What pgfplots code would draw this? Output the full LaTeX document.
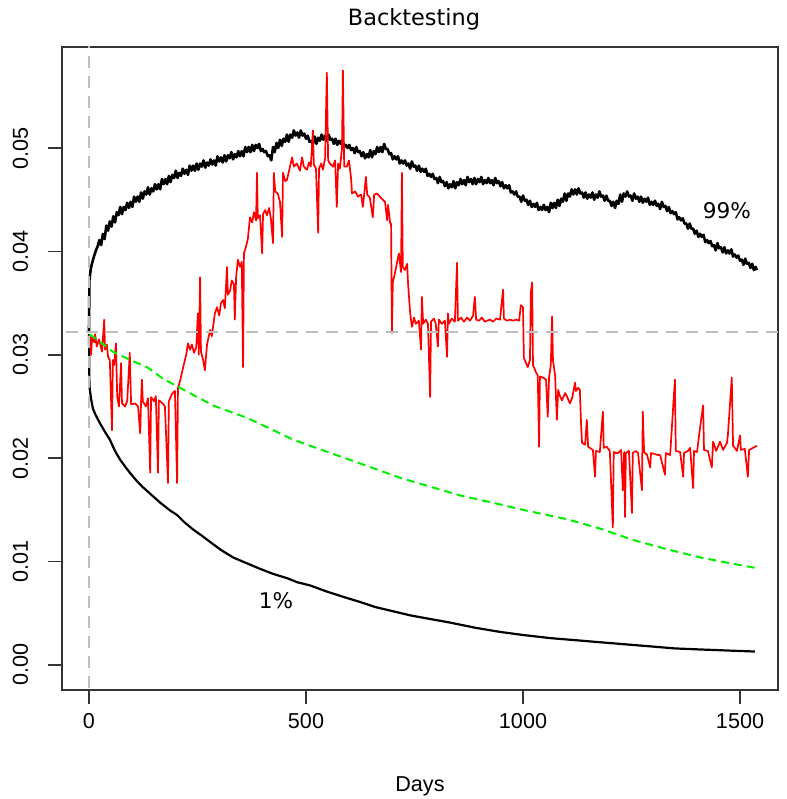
\documentclass[border=0pt]{standalone}
\usepackage{pgfplots}
\pgfplotsset{compat=1.18}
\usepackage{fontspec}
\setmainfont{Liberation Sans}
\newfontfamily\dejavu{DejaVu Sans}
\definecolor{rgray}{HTML}{BEBEBE}
\definecolor{rgreen}{HTML}{00F000}
\definecolor{rred}{HTML}{FF0000}
\begin{document}
\begin{tikzpicture}
\begin{axis}[
  scale only axis, width=358pt, height=321.5pt,
  xmin=-62.2, xmax=1587.5, ymin=-0.00242, ymax=0.05977,
  axis line style={black!80, line width=0.75pt},
  xtick={0,500,1000,1500},
  ytick={0,0.01,0.02,0.03,0.04,0.05},
  tick align=outside, major tick length=7pt,
  tick style={black!80, line width=0.75pt},
  xtick pos=bottom, ytick pos=left,
  scaled y ticks=false, scaled x ticks=false,
  /pgf/number format/assume math mode=true,
  /pgf/number format/set thousands separator={},
  tick label style={font=\fontsize{10.8}{13}\selectfont},
  xticklabel style={anchor=base, yshift=-12pt},
  yticklabel style={/pgf/number format/fixed, /pgf/number format/fixed zerofill, /pgf/number format/precision=2, anchor=base, xshift=-10pt, rotate=90},
  title={\dejavu Backtesting},
  title style={font=\fontsize{11.2}{13}\selectfont, at={(axis description cs:0.5,1)}, anchor=base, yshift=4.5pt, xshift=-3pt},
  xlabel={Days},
  xlabel style={font=\fontsize{10.8}{13}\selectfont, at={(axis description cs:0.5,0)}, anchor=base, yshift=-50.5pt},
  clip=true,
]
% upper 99% band
\addplot[black, line width=1.3pt, line join=round] coordinates {
(0,0.0322) (1,0.0372) (4,0.0383) (8,0.0390) (12,0.0396) (16,0.0401) (20,0.0405)
(24,0.0411) (28,0.0406) (32,0.0417) (36,0.0412) (40,0.0425) (44,0.0420) (48,0.0429) (52,0.0424) (56,0.0434) (60,0.0428)
(64,0.0438) (68,0.0435) (72,0.0443) (76,0.0436) (80,0.0443) (84,0.0440) (88,0.0447) (92,0.0442) (96,0.0448) (100,0.0443)
(104,0.0453) (108,0.0448) (112,0.0453) (116,0.0448) (120,0.0457) (124,0.0451) (128,0.0458) (132,0.0455) (136,0.0462) (140,0.0455)
(144,0.0461) (148,0.0458) (152,0.0465) (156,0.0460) (160,0.0465) (164,0.0460) (168,0.0470) (172,0.0465) (176,0.0470) (180,0.0465)
(184,0.0473) (188,0.0467) (192,0.0474) (196,0.0471) (200,0.0478) (204,0.0471) (208,0.0476) (212,0.0473) (216,0.0480) (220,0.0475)
(224,0.0479) (228,0.0474) (232,0.0483) (236,0.0478) (240,0.0483) (244,0.0478) (248,0.0485) (252,0.0479) (256,0.0485) (260,0.0482)
(264,0.0488) (268,0.0481) (272,0.0486) (276,0.0483) (280,0.0489) (284,0.0484) (288,0.0488) (292,0.0483) (296,0.0492) (300,0.0487)
(304,0.0491) (308,0.0486) (312,0.0493) (316,0.0487) (320,0.0493) (324,0.0490) (328,0.0496) (332,0.0489) (336,0.0494) (340,0.0491)
(344,0.0497) (348,0.0492) (352,0.0497) (356,0.0492) (360,0.0501) (364,0.0496) (368,0.0501) (372,0.0496) (376,0.0503) (380,0.0497)
(384,0.0503) (388,0.0500) (392,0.0504) (396,0.0497) (400,0.0499) (404,0.0496) (408,0.0497) (412,0.0492) (416,0.0493) (420,0.0488)
(424,0.0501) (428,0.0496) (432,0.0505) (436,0.0500) (440,0.0508) (444,0.0502) (448,0.0509) (452,0.0506) (456,0.0513) (460,0.0506)
(464,0.0513) (468,0.0510) (472,0.0517) (476,0.0512) (480,0.0515) (484,0.0510) (488,0.0517) (492,0.0512) (496,0.0514) (500,0.0509)
(504,0.0512) (508,0.0506) (512,0.0507) (516,0.0504) (520,0.0511) (524,0.0504) (528,0.0510) (532,0.0507) (536,0.0513) (540,0.0508)
(544,0.0512) (548,0.0507) (552,0.0513) (556,0.0508) (560,0.0509) (564,0.0504) (568,0.0509) (572,0.0503) (576,0.0507) (580,0.0504)
(584,0.0508) (588,0.0501) (592,0.0503) (596,0.0500) (600,0.0503) (604,0.0498) (608,0.0500) (612,0.0495) (616,0.0501) (620,0.0496)
(624,0.0497) (628,0.0492) (632,0.0496) (636,0.0490) (640,0.0494) (644,0.0491) (648,0.0498) (652,0.0491) (656,0.0497) (660,0.0494)
(664,0.0501) (668,0.0496) (672,0.0501) (676,0.0496) (680,0.0504) (684,0.0499) (688,0.0499) (692,0.0494) (696,0.0495) (700,0.0489)
(704,0.0492) (708,0.0489) (712,0.0492) (716,0.0485) (720,0.0488) (724,0.0485) (728,0.0488) (732,0.0483) (736,0.0485) (740,0.0480)
(744,0.0487) (748,0.0482) (752,0.0483) (756,0.0478) (760,0.0483) (764,0.0477) (768,0.0480) (772,0.0477) (776,0.0480) (780,0.0473)
(784,0.0475) (788,0.0472) (792,0.0475) (796,0.0470) (800,0.0471) (804,0.0466) (808,0.0472) (812,0.0467) (816,0.0468) (820,0.0463)
(824,0.0467) (828,0.0461) (832,0.0465) (836,0.0462) (840,0.0468) (844,0.0461) (848,0.0467) (852,0.0464) (856,0.0470) (860,0.0465)
(864,0.0469) (868,0.0464) (872,0.0472) (876,0.0467) (880,0.0470) (884,0.0465) (888,0.0471) (892,0.0465) (896,0.0470) (900,0.0467)
(904,0.0472) (908,0.0465) (912,0.0469) (916,0.0466) (920,0.0471) (924,0.0466) (928,0.0469) (932,0.0464) (936,0.0471) (940,0.0466)
(944,0.0468) (948,0.0463) (952,0.0467) (956,0.0461) (960,0.0464) (964,0.0461) (968,0.0464) (972,0.0457) (976,0.0458) (980,0.0455)
(984,0.0458) (988,0.0453) (992,0.0453) (996,0.0448) (1000,0.0454) (1004,0.0449) (1008,0.0450) (1012,0.0445) (1016,0.0449) (1020,0.0443)
(1024,0.0446) (1028,0.0443) (1032,0.0447) (1036,0.0440) (1040,0.0443) (1044,0.0440) (1048,0.0445) (1052,0.0440) (1056,0.0443) (1060,0.0438)
(1064,0.0447) (1068,0.0442) (1072,0.0447) (1076,0.0442) (1080,0.0450) (1084,0.0444) (1088,0.0451) (1092,0.0448) (1096,0.0456) (1100,0.0449)
(1104,0.0456) (1108,0.0453) (1112,0.0460) (1116,0.0455) (1120,0.0460) (1124,0.0455) (1128,0.0461) (1132,0.0456) (1136,0.0457) (1140,0.0452)
(1144,0.0457) (1148,0.0451) (1152,0.0455) (1156,0.0452) (1160,0.0457) (1164,0.0450) (1168,0.0455) (1172,0.0452) (1176,0.0458) (1180,0.0453)
(1184,0.0454) (1188,0.0449) (1192,0.0454) (1196,0.0449) (1200,0.0449) (1204,0.0444) (1208,0.0448) (1212,0.0442) (1216,0.0449) (1220,0.0446)
(1224,0.0455) (1228,0.0448) (1232,0.0456) (1236,0.0453) (1240,0.0458) (1244,0.0453) (1248,0.0454) (1252,0.0449) (1256,0.0456) (1260,0.0451)
(1264,0.0453) (1268,0.0448) (1272,0.0453) (1276,0.0447) (1280,0.0451) (1284,0.0448) (1288,0.0452) (1292,0.0445) (1296,0.0448) (1300,0.0445)
(1304,0.0449) (1308,0.0444) (1312,0.0446) (1316,0.0441) (1320,0.0448) (1324,0.0443) (1328,0.0444) (1332,0.0439) (1336,0.0443) (1340,0.0437)
(1344,0.0439) (1348,0.0436) (1352,0.0438) (1356,0.0431) (1360,0.0433) (1364,0.0430) (1368,0.0432) (1372,0.0427) (1376,0.0427) (1380,0.0422)
(1384,0.0427) (1388,0.0422) (1392,0.0422) (1396,0.0417) (1400,0.0420) (1404,0.0414) (1408,0.0417) (1412,0.0414) (1416,0.0416) (1420,0.0409)
(1424,0.0411) (1428,0.0408) (1432,0.0410) (1436,0.0405) (1440,0.0406) (1444,0.0401) (1448,0.0408) (1452,0.0403) (1456,0.0404) (1460,0.0399)
(1464,0.0404) (1468,0.0398) (1472,0.0401) (1476,0.0398) (1480,0.0402) (1484,0.0395) (1488,0.0397) (1492,0.0394) (1496,0.0396) (1500,0.0391)
(1504,0.0392) (1508,0.0387) (1512,0.0393) (1516,0.0388) (1520,0.0389) (1524,0.0384) (1528,0.0388) (1532,0.0382) (1536,0.0385) (1539,0.0382)
};
% lower 1% band
\addplot[black, line width=1.1pt, line join=round] coordinates {
(0,0.0320) (1,0.0272) (2,0.0266) (5,0.0257) (9,0.0248) (15,0.0242) (25,0.0234) (36,0.0226) (48,0.0218) (60,0.0207) (71,0.0199)
(83,0.0192) (94,0.0186) (110,0.0178) (124,0.0172) (140,0.0166) (164,0.0157) (185,0.0150) (203,0.0145) (220,0.0138) (240,0.0131)
(260,0.0125) (279,0.0119) (305,0.0111) (332,0.0104) (360,0.0099) (394,0.0093) (425,0.0088) (456,0.0084) (480,0.0080) (509,0.0077)
(548,0.0071) (585,0.0066) (624,0.0061) (660,0.0056) (700,0.0052) (740,0.0048) (779,0.0045) (832,0.0041) (890,0.0036) (947,0.0032)
(1000,0.0029) (1062,0.0026) (1120,0.0024) (1177,0.0022) (1235,0.0020) (1293,0.0018) (1350,0.0016) (1408,0.0015) (1470,0.0014) (1534,0.0013)
};
% observed
\addplot[rred, line width=0.85pt, line join=round] coordinates {
(0,0.0319) (2,0.0318) (5,0.0300) (7,0.0317) (12,0.0312) (14,0.0320) (18,0.0308) (23,0.0315) (30,0.0303) (35,0.0334) (37,0.0305)
(41,0.0310) (44,0.0298) (48,0.0295) (53,0.0227) (55,0.0295) (58,0.0290) (62,0.0311) (65,0.0260) (69,0.0250) (74,0.0292) (76,0.0253)
(83,0.0250) (88,0.0255) (94,0.0302) (97,0.0252) (106,0.0253) (113,0.0250) (118,0.0224) (120,0.0255) (122,0.0276) (124,0.0255)
(131,0.0250) (136,0.0258) (141,0.0186) (143,0.0259) (150,0.0255) (154,0.0260) (159,0.0186) (161,0.0256) (170,0.0253) (175,0.0250)
(182,0.0176) (184,0.0255) (191,0.0262) (198,0.0265) (203,0.0176) (205,0.0268) (210,0.0275) (217,0.0288) (224,0.0300) (228,0.0311)
(233,0.0305) (237,0.0310) (242,0.0302) (247,0.0307) (251,0.0340) (253,0.0300) (256,0.0375) (258,0.0303) (263,0.0295) (267,0.0285)
(272,0.0310) (279,0.0324) (283,0.0318) (290,0.0340) (295,0.0346) (300,0.0338) (304,0.0350) (309,0.0353) (313,0.0345) (318,0.0385)
(320,0.0358) (325,0.0362) (329,0.0372) (334,0.0368) (336,0.0334) (339,0.0375) (343,0.0392) (348,0.0385) (352,0.0390) (355,0.0288)
(357,0.0398) (362,0.0405) (366,0.0412) (371,0.0433) (376,0.0428) (380,0.0438) (385,0.0430) (387,0.0476) (389,0.0432) (394,0.0435)
(399,0.0398) (401,0.0436) (406,0.0440) (410,0.0435) (415,0.0442) (419,0.0432) (424,0.0408) (426,0.0476) (429,0.0458) (435,0.0456)
(440,0.0448) (445,0.0414) (447,0.0476) (452,0.0468) (456,0.0469) (461,0.0478) (468,0.0491) (472,0.0482) (479,0.0485) (486,0.0478)
(491,0.0491) (495,0.0482) (502,0.0479) (507,0.0486) (511,0.0482) (516,0.0517) (518,0.0484) (523,0.0480) (528,0.0418) (530,0.0480)
(535,0.0485) (539,0.0479) (544,0.0490) (548,0.0573) (551,0.0488) (555,0.0485) (562,0.0482) (567,0.0488) (571,0.0443) (574,0.0485)
(578,0.0480) (583,0.0500) (585,0.0575) (588,0.0482) (594,0.0482) (599,0.0488) (604,0.0470) (606,0.0456) (613,0.0458) (620,0.0453)
(627,0.0455) (631,0.0443) (634,0.0455) (638,0.0472) (641,0.0455) (647,0.0452) (654,0.0433) (657,0.0455) (664,0.0456) (670,0.0453)
(677,0.0450) (682,0.0448) (687,0.0430) (689,0.0445) (694,0.0427) (696,0.0427) (698,0.0321) (700,0.0370) (705,0.0379) (710,0.0390)
(714,0.0398) (719,0.0380) (721,0.0476) (723,0.0385) (728,0.0382) (733,0.0388) (735,0.0370) (740,0.0340) (744,0.0327) (749,0.0336)
(753,0.0330) (760,0.0333) (765,0.0305) (767,0.0356) (770,0.0330) (776,0.0334) (781,0.0330) (786,0.0259) (788,0.0332) (795,0.0335)
(799,0.0330) (804,0.0308) (806,0.0334) (813,0.0330) (820,0.0333) (825,0.0298) (827,0.0340) (829,0.0330) (836,0.0335) (843,0.0332)
(848,0.0389) (850,0.0333) (857,0.0336) (864,0.0332) (871,0.0336) (878,0.0333) (885,0.0338) (889,0.0356) (892,0.0334) (899,0.0333)
(905,0.0336) (912,0.0332) (917,0.0333) (924,0.0334) (931,0.0332) (938,0.0335) (947,0.0334) (954,0.0363) (956,0.0335) (963,0.0333)
(970,0.0334) (977,0.0333) (984,0.0334) (991,0.0333) (995,0.0348) (1000,0.0346) (1002,0.0297) (1007,0.0292) (1011,0.0288) (1016,0.0295)
(1018,0.0360) (1021,0.0370) (1023,0.0290) (1030,0.0283) (1034,0.0280) (1037,0.0211) (1039,0.0279) (1046,0.0278) (1053,0.0276) (1057,0.0240)
(1060,0.0278) (1064,0.0290) (1067,0.0337) (1069,0.0295) (1074,0.0280) (1078,0.0237) (1081,0.0266) (1085,0.0260) (1090,0.0256) (1097,0.0263)
(1101,0.0260) (1108,0.0253) (1113,0.0258) (1120,0.0273) (1122,0.0265) (1127,0.0268) (1131,0.0266) (1134,0.0230) (1136,0.0215) (1143,0.0213)
(1147,0.0237) (1150,0.0211) (1154,0.0210) (1161,0.0208) (1166,0.0182) (1168,0.0207) (1177,0.0206) (1184,0.0245) (1186,0.0210) (1193,0.0211)
(1200,0.0207) (1207,0.0133) (1209,0.0206) (1214,0.0205) (1219,0.0205) (1226,0.0208) (1230,0.0169) (1233,0.0206) (1235,0.0143) (1237,0.0205)
(1244,0.0207) (1251,0.0147) (1253,0.0205) (1260,0.0207) (1265,0.0205) (1274,0.0169) (1276,0.0245) (1279,0.0206) (1286,0.0203) (1293,0.0191)
(1295,0.0205) (1304,0.0204) (1311,0.0203) (1316,0.0203) (1327,0.0184) (1329,0.0205) (1339,0.0203) (1346,0.0250) (1350,0.0276) (1352,0.0207)
(1362,0.0206) (1369,0.0182) (1371,0.0205) (1380,0.0207) (1385,0.0210) (1392,0.0171) (1394,0.0207) (1401,0.0206) (1408,0.0230) (1415,0.0251)
(1417,0.0208) (1426,0.0207) (1435,0.0191) (1438,0.0216) (1445,0.0207) (1454,0.0216) (1461,0.0208) (1470,0.0215) (1472,0.0222) (1481,0.0278)
(1484,0.0212) (1493,0.0207) (1500,0.0222) (1502,0.0208) (1511,0.0209) (1518,0.0182) (1521,0.0208) (1530,0.0210) (1539,0.0212)
};
% expected
\addplot[rgreen, line width=1pt, dash pattern=on 4pt off 2.5pt] coordinates {
(1,0.0320) (30,0.0311) (55,0.0303) (95,0.0295) (134,0.0288) (170,0.0277) (210,0.0268) (250,0.0259) (286,0.0251) (325,0.0245)
(364,0.0239) (400,0.0232) (435,0.0225) (470,0.0218) (550,0.0206) (624,0.0195) (717,0.0181) (790,0.0172) (855,0.0164) (930,0.0157)
(1000,0.0150) (1101,0.0141) (1177,0.0132) (1253,0.0121) (1331,0.0112) (1408,0.0104) (1470,0.0099) (1534,0.0094)
};
% reference lines
\addplot[rgray, line width=0.7pt, dash pattern=on 6pt off 4pt] coordinates {(-100,0.0322) (1700,0.0322)};
\addplot[rgray, line width=0.7pt, dash pattern=on 6pt off 4pt] coordinates {(0,-0.01) (0,0.07)};
\node[font=\dejavu\fontsize{10.8}{13}\selectfont] at (axis cs:1470,0.0439) {99\%};
\node[font=\dejavu\fontsize{10.8}{13}\selectfont] at (axis cs:431,0.0062) {1\%};
\end{axis}
\pgfresetboundingbox
\path[use as bounding box] ([shift={(-31pt,-54.5pt)}]current axis.south west) rectangle ([shift={(4.5pt,23.5pt)}]current axis.north east);
\end{tikzpicture}
\end{document}
